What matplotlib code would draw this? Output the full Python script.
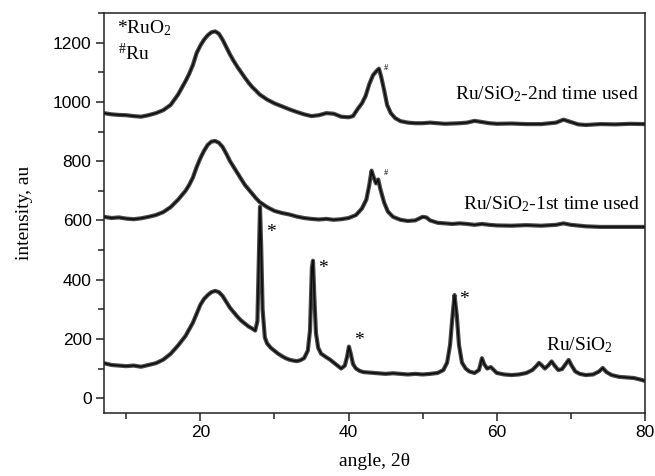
import matplotlib
matplotlib.use("Agg")
import matplotlib.pyplot as plt
from matplotlib.ticker import MultipleLocator

plt.rcParams['mathtext.fontset'] = 'custom'
plt.rcParams['mathtext.rm'] = 'Liberation Serif'
plt.rcParams['mathtext.it'] = 'Liberation Serif:italic'

# ---- data ----
ang_fresh = [7, 8, 9, 10, 11, 12, 13, 14, 15, 16, 17, 18, 19, 19.5, 20, 20.5, 21, 21.5, 22, 22.5,
             23, 23.5, 24, 24.5, 25, 25.5, 26, 26.5, 27, 27.4, 27.7, 27.9, 28.05, 28.2, 28.4, 28.7,
             29, 29.5, 30, 30.5, 31, 31.5, 32, 32.5, 33, 33.5, 34, 34.5, 34.8, 35.05, 35.2, 35.4,
             35.6, 35.9, 36.3, 37, 37.5, 38, 38.5, 39, 39.5, 39.8, 40.05, 40.3, 40.6, 41, 41.5, 42,
             43, 44, 45, 46, 47, 48, 49, 50, 51, 52, 52.8, 53.3, 53.7, 54.0, 54.3, 54.6, 54.9, 55.3,
             55.8, 56.3, 57, 57.6, 58.0, 58.3, 58.7, 59.2, 59.6, 60, 61, 62, 63, 64, 64.8, 65.4, 65.7,
             66.1, 66.5, 67.0, 67.4, 67.8, 68.3, 68.8, 69.3, 69.7, 70.1, 70.6, 71.2, 72, 73, 73.8,
             74.3, 74.8, 75.5, 76.5, 77.5, 78.5, 79.5, 80]
int_fresh = [118, 112, 110, 108, 110, 106, 112, 118, 130, 150, 178, 210, 255, 285, 315, 335, 348, 358, 362, 358,
             345, 325, 305, 290, 275, 262, 252, 242, 235, 228, 260, 480, 646, 520, 300, 205,
             185, 170, 160, 150, 142, 135, 130, 127, 125, 128, 135, 160, 230, 440, 464, 330,
             220, 170, 150, 138, 130, 120, 110, 100, 110, 140, 174, 150, 115, 100, 92, 88,
             86, 84, 82, 84, 82, 80, 82, 80, 82, 85, 95, 120, 180, 270, 348, 280, 180, 120,
             100, 90, 85, 95, 135, 115, 100, 105, 95, 85, 80, 78, 80, 85, 95, 110, 119,
             110, 100, 112, 124, 110, 95, 98, 115, 129, 110, 90, 82, 78, 80, 90,
             102, 88, 78, 72, 70, 68, 62, 58]

ang_1st = [7, 8, 9, 10, 11, 12, 13, 14, 15, 16, 17, 18, 18.5, 19, 19.5, 20, 20.5, 21, 21.5, 22, 22.5,
           23, 23.5, 24, 24.5, 25, 25.5, 26, 26.5, 27, 27.5, 28, 29, 30, 31, 32, 33, 34, 35, 36, 37,
           38, 39, 40, 41, 41.8, 42.4, 42.8, 43.1, 43.4, 43.7, 44.0, 44.3, 44.8, 45.3, 46, 47, 48,
           49, 50, 50.5, 51, 52, 53, 54, 55, 56, 57, 58, 59, 60, 62, 64, 66, 68, 69, 70, 72, 74,
           76, 78, 80]
int_1st = [612, 608, 610, 606, 604, 607, 612, 618, 628, 645, 670, 700, 720, 745, 780, 810, 835, 855, 866, 868, 862,
           848, 825, 800, 780, 760, 740, 720, 705, 690, 675, 662, 645, 632, 625, 620, 613, 608, 605, 603, 605,
           602, 604, 608, 618, 640, 670, 720, 768, 745, 725, 738, 705, 660, 630, 612, 602, 598,
           600, 612, 610, 600, 592, 590, 588, 590, 588, 585, 588, 585, 583, 582, 584, 582, 585, 590, 585, 580, 578,
           578, 578, 578]

ang_2nd = [7, 8, 9, 10, 11, 12, 13, 14, 15, 16, 17, 18, 18.5, 19, 19.5, 20, 20.5, 21, 21.5, 22, 22.5,
           23, 23.5, 24, 24.5, 25, 25.5, 26, 26.5, 27, 27.5, 28, 29, 30, 31, 32, 33, 34, 35, 36, 37,
           38, 39, 40, 40.6, 41.2, 41.8, 42.3, 42.8, 43.3, 43.8, 44.1, 44.4, 44.8, 45.2, 45.7, 46.3,
           47, 48, 49, 50, 51, 52, 53, 54, 55, 56, 57, 58, 59, 60, 62, 64, 66, 68, 69, 70, 71, 72,
           74, 76, 78, 80]
int_2nd = [962, 958, 956, 955, 952, 950, 955, 962, 972, 990, 1025, 1070, 1095, 1125, 1165, 1190, 1210, 1225, 1235, 1238, 1230,
           1210, 1185, 1160, 1138, 1118, 1100, 1082, 1065, 1050, 1038, 1025, 1008, 995, 985, 975, 966, 958, 952, 955, 962,
           960, 950, 948, 952, 975, 995, 1020, 1060, 1090, 1105, 1112, 1085, 1040, 990, 962, 945,
           935, 930, 928, 928, 930, 928, 926, 927, 928, 930, 936, 932, 928, 926, 927, 925, 925, 930, 940, 932, 924, 922,
           925, 924, 926, 925]

series_labels = ["Ru/SiO$_\\mathrm{2}$", "Ru/SiO$_\\mathrm{2}$-1st time used", "Ru/SiO$_\\mathrm{2}$-2nd time used"]
x_ticks = [20, 40, 60, 80]
y_ticks = [0, 200, 400, 600, 800, 1000, 1200]

# ---- figure ----
fig = plt.figure(figsize=(6.55, 4.76), dpi=100)
ax = fig.add_axes([0.1588, 0.1324, 0.8259, 0.8403])

for a, v in [(ang_fresh, int_fresh), (ang_1st, int_1st), (ang_2nd, int_2nd)]:
    ax.plot(a, v, color='#4a4a4a', lw=3.0, solid_joinstyle='round')
    ax.plot(a, v, color='#0d0d0d', lw=1.2)

ax.set_xlim(7, 80)
ax.set_ylim(-50, 1300)
ax.set_xticks(x_ticks)
ax.set_yticks(y_ticks)
ax.xaxis.set_minor_locator(MultipleLocator(10))
ax.yaxis.set_minor_locator(MultipleLocator(100))
ax.tick_params(which='both', direction='out', top=False, right=False, width=1.1, color='#222222')
ax.tick_params(which='major', length=6, labelsize=12.5, pad=3)
ax.tick_params(which='minor', length=4)
for lab in ax.get_xticklabels() + ax.get_yticklabels():
    lab.set_fontfamily('Liberation Sans')
for s in ax.spines.values():
    s.set_linewidth(1.1)
    s.set_color('#222222')

serif = 'Liberation Serif'
ax.set_xlabel("angle, 2θ", fontfamily=serif, fontsize=14, labelpad=9)
ax.set_ylabel("intensity, au", fontfamily=serif, fontsize=14, labelpad=14)

ax.text(79.2, 1026, series_labels[2], ha='right', va='center', fontfamily=serif, fontsize=14)
ax.text(79.4, 655, series_labels[1], ha='right', va='center', fontfamily=serif, fontsize=14)
ax.text(66.6, 180, series_labels[0], ha='left', va='center', fontfamily=serif, fontsize=14)

ax.text(8.7, 1250, "*RuO$_\\mathrm{2}$", ha='left', va='center', fontfamily=serif, fontsize=14)
ax.text(8.9, 1163, "$^\\#$Ru", ha='left', va='center', fontfamily=serif, fontsize=14)

for xa, ya in [(29.5, 560), (36.6, 436), (41.4, 193), (55.6, 333)]:
    ax.text(xa, ya, "*", ha='center', va='center', fontfamily=serif, fontsize=14)
for xa, ya in [(45.1, 1116), (45.0, 759)]:
    ax.text(xa, ya, "#", ha='center', va='center', fontfamily=serif, fontsize=6)

fig.savefig("out.png", dpi=100)
